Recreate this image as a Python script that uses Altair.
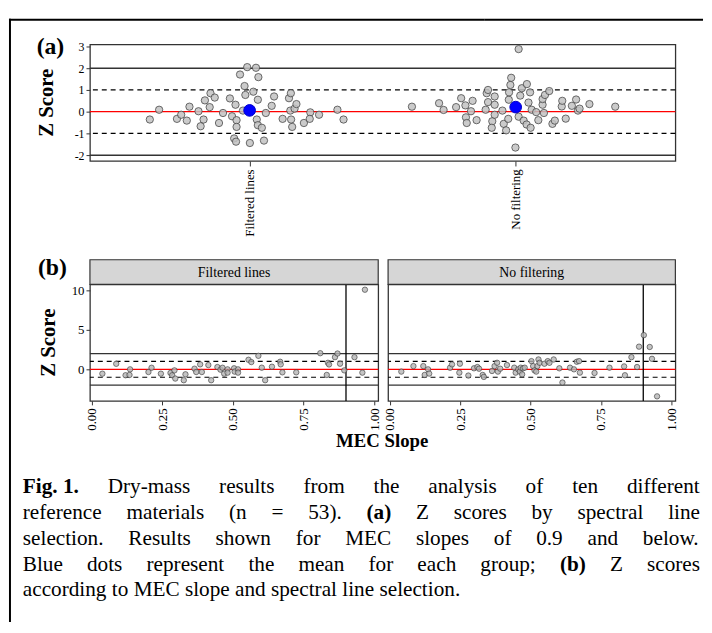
import altair as alt
import pandas as pd

FONT = "Liberation Serif"

group_names = ["Filtered lines", "No filtering"]
group_means = [0.06, 0.21]
cutoff = 0.9

# panel (a): horizontal jitter offset from the group centre, and Z score
fl_dx = [-0.375, -0.340, -0.273, -0.257, -0.236, -0.226, -0.192, -0.184, -0.173, -0.168,
         -0.150, -0.147, -0.131, -0.115, -0.100, -0.074, -0.066, -0.053, -0.049, -0.049,
         -0.058, -0.051, -0.036, -0.019, -0.016, -0.009, 0.014, 0.024, 0.033, 0.031,
         0.027, 0.031, 0.046, 0.001, 0.054, 0.061, 0.083, 0.092, 0.124, 0.148,
         0.155, 0.153, 0.156, 0.160, 0.169, 0.176, 0.204, 0.228, 0.226, 0.261,
         0.330, 0.353, -0.025]
fl_z = [-0.36, 0.09, -0.33, -0.14, -0.41, 0.23, 0.02, -0.67, -0.36, 0.52,
        0.21, 0.85, 0.65, -0.52, -0.06, 0.61, -0.21, 0.32, -0.39, -0.70,
        -1.23, -1.38, 1.71, 1.18, 0.77, 2.05, 0.92, 2.02, 1.59, 0.55,
        -0.36, -0.62, -0.74, -1.44, -1.33, -0.06, 0.27, 0.70, -0.33, 0.62,
        0.85, 0.05, -0.36, -0.70, 0.14, 0.35, -0.52, -0.03, -0.33, -0.14,
        0.09, -0.36, 0.05]
nf_dx = [0.011, -0.001, -0.390, -0.288, -0.271, -0.224, -0.205, -0.189, -0.187, -0.184,
         -0.168, -0.162, -0.147, -0.113, -0.109, -0.104, -0.104, -0.088, -0.090, -0.079,
         -0.079, -0.079, -0.050, -0.045, -0.036, -0.028, -0.026, -0.025, -0.020, -0.017,
         0.011, 0.017, 0.023, 0.030, 0.042, 0.041, 0.048, 0.054, 0.056, 0.060,
         0.077, 0.085, 0.101, 0.101, 0.106, 0.110, 0.126, 0.138, 0.147, 0.173,
         0.175, 0.188, 0.211, 0.227, 0.234, 0.240, 0.277, 0.374]
nf_z = [2.88, -1.65, 0.23, 0.39, 0.08, 0.21, 0.62, 0.29, -0.26, -0.52,
        0.02, 0.50, -0.39, 0.09, 0.85, 1.00, 0.44, -0.44, -0.74, 0.70,
        0.32, -0.14, 0.05, -0.56, -0.86, -0.33, 0.55, 0.89, 1.23, 1.56,
        -0.23, 0.74, 1.08, -0.41, 1.27, -0.59, 0.42, 0.89, -0.74, 0.09,
        -0.02, -0.39, 0.32, 0.58, -0.06, 0.77, 0.95, -0.56, -0.41, 0.24,
        0.50, -0.32, 0.27, 0.56, 0.05, 0.14, 0.35, 0.23]

# panel (b): MEC slope and Z score
fl_slope = [0.038, 0.087, 0.120, 0.134, 0.136, 0.201, 0.212, 0.245, 0.279, 0.285,
            0.293, 0.296, 0.326, 0.332, 0.364, 0.370, 0.384, 0.390, 0.413, 0.423,
            0.445, 0.456, 0.463, 0.469, 0.481, 0.481, 0.504, 0.506, 0.518, 0.518,
            0.555, 0.565, 0.590, 0.602, 0.614, 0.638, 0.667, 0.669, 0.675, 0.724,
            0.809, 0.832, 0.836, 0.840, 0.861, 0.870, 0.879, 0.894, 0.930, 0.958,
            0.967]
fl_zb = [-0.55, 0.70, -0.75, -0.71, 0.00, -0.34, 0.20, -0.55, -0.46, -0.75,
         -0.13, -1.17, -1.38, -0.63, 0.08, -0.34, 0.63, -0.34, 0.54, -1.38,
         0.29, -0.04, 0.20, -0.55, 0.00, -0.42, 0.13, -0.29, 0.00, -0.42,
         1.21, 0.92, 1.71, 0.21, -1.38, 0.33, 0.96, 0.63, -0.38, -0.38,
         2.04, -0.71, 0.83, 0.62, 1.54, 2.00, 0.71, -0.13, 1.54, -0.42,
         10.08]
nf_slope = [0.041, 0.084, 0.119, 0.124, 0.136, 0.140, 0.214, 0.221, 0.247, 0.249,
            0.279, 0.299, 0.311, 0.317, 0.330, 0.334, 0.363, 0.372, 0.381, 0.384,
            0.392, 0.416, 0.442, 0.447, 0.456, 0.462, 0.465, 0.470, 0.473, 0.479,
            0.503, 0.509, 0.514, 0.520, 0.524, 0.528, 0.532, 0.549, 0.561, 0.567,
            0.582, 0.602, 0.613, 0.640, 0.654, 0.664, 0.672, 0.675, 0.727, 0.780,
            0.832, 0.835, 0.858, 0.878, 0.885, 0.902, 0.923, 0.931, 0.949]
nf_zb = [-0.29, 0.41, 0.41, -0.71, 0.00, -0.54, 0.20, 0.62, -0.42, 0.71,
         -0.79, 0.13, 0.29, 0.08, -0.71, -0.96, -0.21, 0.41, 0.83, -0.29,
         0.08, 0.54, 0.21, -0.42, 0.00, -0.29, 0.21, -0.63, 0.13, 0.21,
         1.04, 0.41, -0.13, -0.29, 0.41, 1.25, 0.83, 0.71, 1.04, 0.83,
         1.25, 0.13, -1.67, 0.21, 0.00, 0.96, 1.04, -0.42, -0.46, 0.21,
         0.37, -0.75, 1.54, 0.29, 2.87, 4.33, 2.83, 1.33, -3.42]

caption_lines = [
    "Fig.\u00a01. Dry-mass results from the analysis of ten different",
    "reference materials (n = 53). (a) Z scores by spectral line",
    "selection. Results shown for MEC slopes of 0.9 and below.",
    "Blue dots represent the mean for each group; (b) Z scores",
    "according to MEC slope and spectral line selection.",
]
bold_words = ["Fig.\u00a01.", "(a)", "(b)"]

# ---------------- layout constants ----------------
W_A, H_A = 593, 118
W_BL, W_BR, H_B = 292, 291, 118
GAP_V = 125
CAP_SIZE = 21.5
CAP_H = 60
B_TOP = 39 + H_A + GAP_V

REG = {" ": 250, "\u00a0": 250, "(": 333, ")": 333, ",": 250, "-": 333, ".": 250, ";": 278, "=": 564}
for d in "0123456789":
    REG[d] = 500
REG.update(dict(zip("ABCDEFGHIJKLMNOPQRSTUVWXYZ",
                    [722, 667, 667, 722, 611, 556, 722, 722, 333, 389, 722, 611, 889,
                     722, 722, 556, 722, 667, 556, 611, 722, 722, 944, 722, 722, 611])))
REG.update(dict(zip("abcdefghijklmnopqrstuvwxyz",
                    [444, 500, 444, 500, 444, 333, 500, 500, 278, 278, 500, 278, 778,
                     500, 500, 500, 500, 333, 389, 278, 500, 500, 722, 500, 500, 444])))
BOLD = dict(REG)
BOLD.update({"F": 611, "a": 500, "b": 556, "g": 500})


def text_width(s, bold):
    tbl = BOLD if bold else REG
    return sum(tbl.get(c, 500) for c in s) * CAP_SIZE / 1000.0


# the caption cell follows the (b) row, whose flush height counts as zero
CAP_X0, CAP_Y0 = 90, B_TOP + GAP_V
cap_left, cap_right = 22 - CAP_X0, 708 - CAP_X0
line_centres = [487, 513.3, 539.5, 565.8, 592]
rows = []
for i, line in enumerate(caption_lines):
    words = line.split(" ")
    ws = [text_width(w, w in bold_words) for w in words]
    if i < len(caption_lines) - 1:
        gap = (cap_right - cap_left - sum(ws)) / (len(words) - 1)
    else:
        gap = 250 * CAP_SIZE / 1000.0
    x = cap_left
    for w, wd in zip(words, ws):
        rows.append({"px": x, "py": line_centres[i] - CAP_Y0, "word": w,
                     "weight": "bold" if w in bold_words else "normal"})
        x += wd + gap
cap_df = pd.DataFrame(rows)

one = pd.DataFrame({"k": [0]})
num_label = "'' + datum.value"

# ---------------- panel (a) ----------------
df_a = pd.DataFrame({
    "x": [1 + d for d in fl_dx] + [2 + d for d in nf_dx],
    "z": fl_z + nf_z,
})
df_mean = pd.DataFrame({"x": [1, 2], "z": group_means})
label_expr = "datum.value == 1 ? '%s' : '%s'" % (group_names[0], group_names[1])

xa = alt.X("x:Q", scale=alt.Scale(domain=[0.4, 2.6], nice=False, zero=False),
           axis=alt.Axis(values=[1, 2], labelExpr=label_expr, labelAngle=270,
                         labelFontSize=13, tickSize=5, title=None, labelPadding=3))
ya = alt.Y("z:Q", scale=alt.Scale(domain=[-2.27, 3.09], nice=False, zero=False),
           axis=alt.Axis(values=[-2, -1, 0, 1, 2, 3], labelExpr=num_label, labelFontSize=12,
                         tickSize=4, title=None, labelPadding=2, labelOverlap=False))

solid_a = alt.Chart(pd.DataFrame({"z": [-2, 2]})).mark_rule(color="#333", strokeWidth=1.5).encode(y=ya)
dash_a = alt.Chart(pd.DataFrame({"z": [-1, 1]})).mark_rule(color="black", strokeWidth=1.2, strokeDash=[5, 4]).encode(y=ya)
zero_a = alt.Chart(pd.DataFrame({"z": [0]})).mark_rule(color="red", strokeWidth=1.3).encode(y=ya)
pts_a = alt.Chart(df_a).mark_point(shape="circle", filled=True, fill="#c2c2c2", stroke="#3a3a3a",
                                   strokeWidth=0.8, size=55, fillOpacity=0.85, strokeOpacity=0.9).encode(x=xa, y=ya)
mean_a = alt.Chart(df_mean).mark_point(shape="circle", filled=True, fill="#0000ff", stroke="#0000c8",
                                       strokeWidth=1, size=140, opacity=1).encode(x=xa, y=ya)


def hbar(x1, x2, y1, y2, col, op=1.0):
    return alt.Chart(one).mark_rect(color=col, opacity=op).encode(
        x=alt.value(x1), x2=alt.value(x2), y=alt.value(y1), y2=alt.value(y2))


# figure frame: top edge (in pieces) and left edge; a faint spacer sits just above it
frame = [hbar(-82, -60, -28, -27, "white", 0.0),
         hbar(-82, 150, -26, -24, "black"), hbar(150, 400, -26, -24, "black"),
         hbar(400, 621, -26, -24, "black"),
         hbar(-82, -80, -26, 585, "black")]
title_a = alt.Chart(one).mark_text(font=FONT, fontSize=21, fontWeight="bold", angle=270,
                                   align="center", baseline="middle").encode(
    x=alt.value(-43), y=alt.value(59), text=alt.value("Z Score"))
tag_a = alt.Chart(one).mark_text(font=FONT, fontSize=24, fontWeight="bold",
                                 align="center", baseline="middle").encode(
    x=alt.value(-40), y=alt.value(3), text=alt.value("(a)"))

chart_a = alt.layer(solid_a, dash_a, zero_a, pts_a, mean_a, *frame,
                    title_a, tag_a).properties(width=W_A, height=H_A)


# ---------------- panel (b) ----------------
def panel_b(slopes, zs, name, width, left):
    df = pd.DataFrame({"slope": slopes, "z": zs})
    xb = alt.X("slope:Q", scale=alt.Scale(domain=[-0.006, 1.014], nice=False, zero=False),
               axis=alt.Axis(values=[0, 0.25, 0.5, 0.75, 1.0], format=".2f", labelAngle=270,
                             labelFontSize=13, tickSize=4, title=None, labelPadding=3))
    yscale = alt.Scale(domain=[-4.0, 10.75], nice=False, zero=False)
    if left:
        yax = alt.Axis(values=[0, 5, 10], labelFontSize=13, tickSize=4, title=None, labelPadding=2)
        yb = alt.Y("z:Q", scale=yscale, axis=yax)
    else:
        yb = alt.Y("z:Q", scale=yscale, axis=None)
    solid = alt.Chart(pd.DataFrame({"z": [-2, 2]})).mark_rule(color="#333", strokeWidth=1.3).encode(y=yb)
    dash = alt.Chart(pd.DataFrame({"z": [-1, 1]})).mark_rule(color="black", strokeWidth=1.2, strokeDash=[5, 4]).encode(y=yb)
    zero = alt.Chart(pd.DataFrame({"z": [0]})).mark_rule(color="red", strokeWidth=1.3).encode(y=yb)
    vline = alt.Chart(pd.DataFrame({"slope": [cutoff]})).mark_rule(color="black", strokeWidth=1.3).encode(x=xb)
    pts = alt.Chart(df).mark_point(shape="circle", filled=True, fill="#b5b5b5", stroke="#3a3a3a",
                                   strokeWidth=0.7, size=30, fillOpacity=0.8, strokeOpacity=0.9).encode(x=xb, y=yb)
    strip = alt.Chart(one).mark_rect(fill="#d6d6d6", stroke="#333", strokeWidth=1.2).encode(
        x=alt.value(0), x2=alt.value(width), y=alt.value(-25), y2=alt.value(0))
    strip_txt = alt.Chart(one).mark_text(font=FONT, fontSize=14, align="center", baseline="middle").encode(
        x=alt.value(width / 2), y=alt.value(-12), text=alt.value(name))
    layers = [solid, dash, zero, vline, pts, strip, strip_txt]
    if left:
        layers.append(alt.Chart(one).mark_text(font=FONT, fontSize=21, fontWeight="bold", angle=270,
                                               align="center", baseline="middle").encode(
            x=alt.value(-41), y=alt.value(59), text=alt.value("Z Score")))
        layers.append(alt.Chart(one).mark_text(font=FONT, fontSize=24, fontWeight="bold",
                                               align="center", baseline="middle").encode(
            x=alt.value(-38), y=alt.value(-17), text=alt.value("(b)")))
        layers.append(alt.Chart(one).mark_text(font=FONT, fontSize=19, fontWeight="bold",
                                               align="center", baseline="middle").encode(
            x=alt.value(296), y=alt.value(159), text=alt.value("MEC Slope")))
    return alt.layer(*layers).properties(width=width, height=H_B)


chart_bl = panel_b(fl_slope, fl_zb, group_names[0], W_BL, True)
chart_br = panel_b(nf_slope, nf_zb, group_names[1], W_BR, False)
row_b = alt.hconcat(chart_bl, chart_br, spacing=10, bounds="flush")

# ---------------- caption ----------------
cap_base = alt.Chart(cap_df)
cap_x = alt.X("px:Q", scale=alt.Scale(domain=[0, W_A], nice=False, zero=False), axis=None)
cap_y = alt.Y("py:Q", scale=alt.Scale(domain=[0, CAP_H], nice=False, zero=False, reverse=True), axis=None)
cap_reg = cap_base.transform_filter("datum.weight == 'normal'").mark_text(
    font=FONT, fontSize=CAP_SIZE, align="left", baseline="middle", color="black").encode(
    x=cap_x, y=cap_y, text="word:N")
cap_bold = cap_base.transform_filter("datum.weight == 'bold'").mark_text(
    font=FONT, fontSize=CAP_SIZE, fontWeight="bold", align="left", baseline="middle", color="black").encode(
    x=cap_x, y=cap_y, text="word:N")
chart_cap = alt.layer(cap_reg, cap_bold).properties(
    width=W_A, height=CAP_H, view=alt.ViewBackground(strokeOpacity=0))

chart = alt.vconcat(chart_a, row_b, chart_cap, spacing=GAP_V, bounds="flush").properties(
    padding={"left": 0, "top": 4, "right": 0, "bottom": 0}, background="white"
).configure_view(stroke="#333", strokeWidth=1.3).configure_axis(
    labelFont=FONT, labelColor="black", tickColor="#333", domain=False, grid=False
)

chart.save("out.html", embed_options={"renderer": "svg", "actions": False})
